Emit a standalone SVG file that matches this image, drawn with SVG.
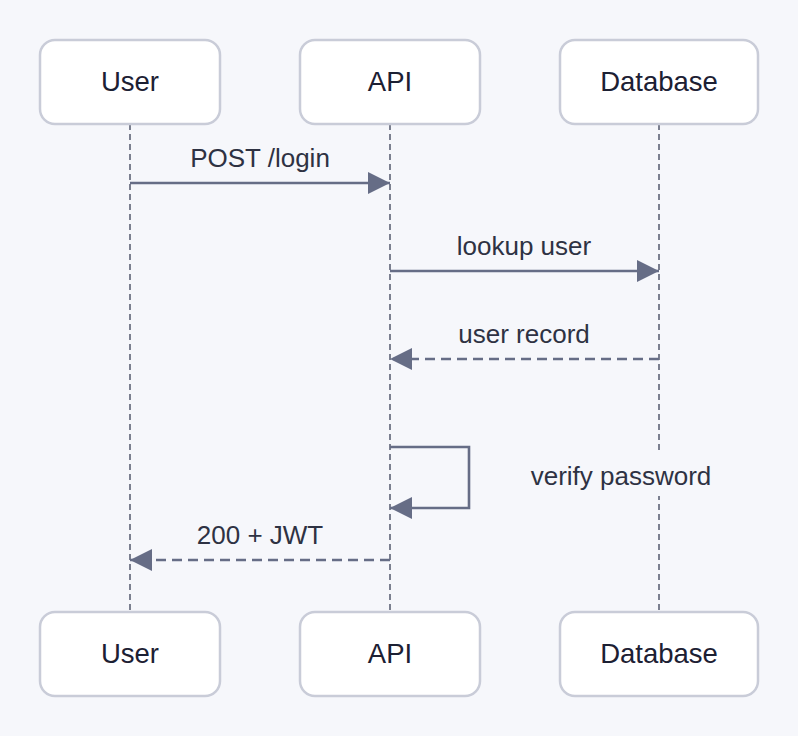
<svg xmlns="http://www.w3.org/2000/svg" width="798" height="736" viewBox="0 0 798 736">
  <defs>
    <style>
      .bg { fill: #f6f7fb; }
      .actor rect { fill: #ffffff; stroke: #c9ccd8; stroke-width: 2.5; }
      .actor text { font-family: "Liberation Sans", Arial, sans-serif; font-size: 27.5px; fill: #1c2033; text-anchor: middle; dominant-baseline: central; }
      .lifeline { stroke: #5d6275; stroke-width: 1.6; stroke-dasharray: 6 4; fill: none; }
      .msg { stroke: #666d86; stroke-width: 2.6; fill: none; }
      .dashed { stroke-dasharray: 10 6; }
      .label { font-family: "Liberation Sans", Arial, sans-serif; font-size: 26px; fill: #2e3243; text-anchor: middle; }
    </style>
    <marker id="arrow" viewBox="0 0 22 22" refX="22" refY="11" markerWidth="22" markerHeight="22" markerUnits="userSpaceOnUse" orient="auto">
      <path d="M0,0 L22,11 L0,22 Z" fill="#666d86"/>
    </marker>
  </defs>

  <rect class="bg" x="0" y="0" width="798" height="736"/>

  <!-- lifelines -->
  <g id="lifelines">
    <line class="lifeline" x1="130" y1="124" x2="130" y2="612"/>
    <line class="lifeline" x1="390" y1="124" x2="390" y2="612"/>
    <line class="lifeline" x1="659" y1="124" x2="659" y2="612"/>
  </g>

  <!-- actors, top row -->
  <g id="user-top" class="actor">
    <rect x="40" y="40" width="180" height="84" rx="15"/>
    <text x="130" y="81">User</text>
  </g>
  <g id="api-top" class="actor">
    <rect x="300" y="40" width="180" height="84" rx="15"/>
    <text x="390" y="81">API</text>
  </g>
  <g id="db-top" class="actor">
    <rect x="560" y="40" width="198" height="84" rx="15"/>
    <text x="659" y="81">Database</text>
  </g>

  <!-- actors, bottom row -->
  <g id="user-bottom" class="actor">
    <rect x="40" y="612" width="180" height="84" rx="15"/>
    <text x="130" y="653">User</text>
  </g>
  <g id="api-bottom" class="actor">
    <rect x="300" y="612" width="180" height="84" rx="15"/>
    <text x="390" y="653">API</text>
  </g>
  <g id="db-bottom" class="actor">
    <rect x="560" y="612" width="198" height="84" rx="15"/>
    <text x="659" y="653">Database</text>
  </g>

  <!-- messages -->
  <g id="connectors">
    <line class="msg" x1="130" y1="183" x2="390" y2="183" marker-end="url(#arrow)"/>
    <line class="msg" x1="390" y1="271" x2="659" y2="271" marker-end="url(#arrow)"/>
    <line class="msg dashed" x1="659" y1="359" x2="390" y2="359" marker-end="url(#arrow)"/>
    <path class="msg" d="M390,447 H469 V508 H390" marker-end="url(#arrow)"/>
    <line class="msg dashed" x1="390" y1="560" x2="130" y2="560" marker-end="url(#arrow)"/>
  </g>

  <g id="labels">
    <text class="label" x="260" y="167">POST /login</text>
    <text class="label" x="524" y="255">lookup user</text>
    <text class="label" x="524" y="343">user record</text>
    <rect class="bg" x="526" y="454" width="192" height="42"/>
    <text class="label" x="621" y="485">verify password</text>
    <text class="label" x="260" y="544">200 + JWT</text>
  </g>
</svg>
